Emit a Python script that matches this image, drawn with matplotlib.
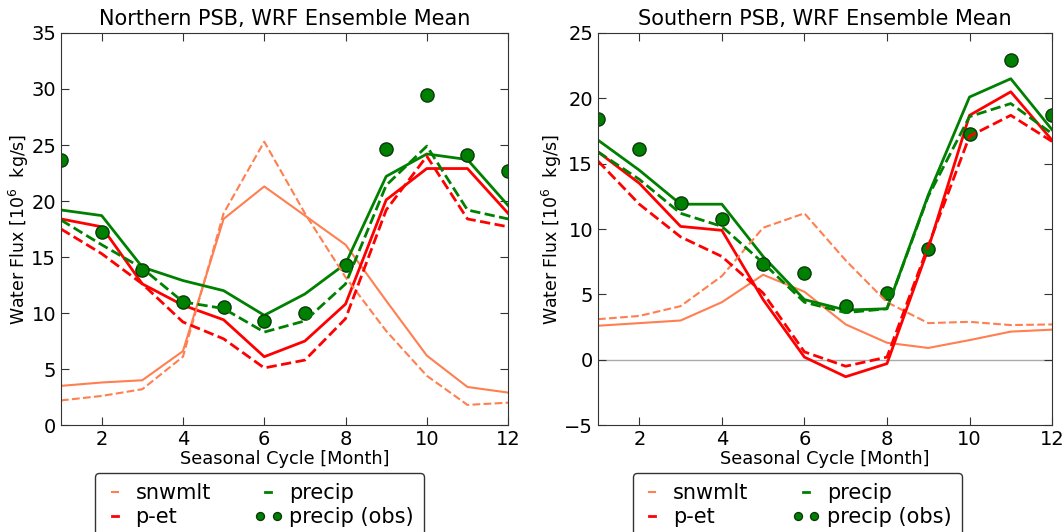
import matplotlib
matplotlib.use("Agg")
import matplotlib.pyplot as plt
from matplotlib.legend_handler import HandlerLine2D

months = list(range(1, 13))

# Northern PSB
n_snw = [3.5, 3.8, 4.0, 6.6, 18.4, 21.3, 18.7, 16.1, 11.1, 6.2, 3.4, 2.9]
n_snw_d = [2.2, 2.6, 3.2, 6.1, 18.9, 25.3, 18.9, 13.2, 8.4, 4.4, 1.8, 2.0]
n_pet = [18.4, 17.7, 12.6, 10.7, 9.4, 6.1, 7.5, 10.8, 20.1, 22.9, 22.9, 18.9]
n_pet_d = [17.5, 15.3, 12.6, 9.2, 7.7, 5.1, 5.8, 9.5, 19.2, 24.0, 18.4, 17.7]
n_pre = [19.2, 18.7, 14.1, 12.9, 12.0, 9.8, 11.7, 14.4, 22.2, 24.2, 23.7, 19.6]
n_pre_d = [18.3, 16.1, 14.0, 11.0, 10.4, 8.3, 9.3, 12.6, 21.4, 24.9, 19.2, 18.4]
n_obs = [23.7, 17.2, 13.8, 11.0, 10.5, 9.3, 10.0, 14.3, 24.6, 29.5, 24.1, 22.7]

# Southern PSB
s_snw = [2.6, 2.8, 3.0, 4.4, 6.5, 5.2, 2.7, 1.3, 0.9, 1.5, 2.15, 2.3]
s_snw_d = [3.1, 3.35, 4.1, 6.4, 10.1, 11.2, 7.6, 4.4, 2.8, 2.9, 2.65, 2.7]
s_pet = [15.9, 13.5, 10.2, 9.9, 4.6, 0.2, -1.3, -0.3, 8.5, 18.7, 20.5, 16.8]
s_pet_d = [15.2, 11.9, 9.4, 7.9, 5.1, 0.6, -0.5, 0.2, 8.7, 17.1, 18.7, 16.7]
s_pre = [16.8, 14.5, 11.9, 11.9, 7.9, 4.6, 3.8, 3.9, 12.6, 20.1, 21.5, 17.6]
s_pre_d = [15.9, 13.8, 11.2, 10.2, 7.4, 4.4, 3.6, 3.9, 12.5, 18.6, 19.6, 17.3]
s_obs = [18.4, 16.1, 12.0, 10.8, 7.3, 6.6, 4.1, 5.1, 8.5, 17.3, 22.9, 18.7]

plt.rcParams["font.family"] = "DejaVu Sans"
plt.rcParams["xtick.direction"] = "in"
plt.rcParams["ytick.direction"] = "in"
plt.rcParams["xtick.top"] = True
plt.rcParams["ytick.right"] = True

fig = plt.figure(figsize=(10.63, 5.32), dpi=100)
ax1 = fig.add_axes([0.0574, 0.201, 0.4206, 0.737])
ax2 = fig.add_axes([0.5626, 0.201, 0.4271, 0.737])

snw_c = "#ff7f50"


def panel(ax, title, snw, snw_d, pet, pet_d, pre, pre_d, obs, ylim, yticks):
    ax.plot(months, snw, color=snw_c, lw=1.5, label="snwmlt")
    ax.plot(months, pet, color="red", lw=2, label="p-et")
    ax.plot(months, pre, color="green", lw=2, label="precip")
    obs_line, = ax.plot(months, obs, "o", color="green", mec="#0a3a0a", ms=9.5,
                        label="precip (obs)")
    ax.plot(months, snw_d, color=snw_c, lw=1.5, ls="--")
    ax.plot(months, pet_d, color="red", lw=2, ls="--")
    ax.plot(months, pre_d, color="green", lw=2, ls="--")
    ax.set_xlim(1, 12)
    ax.set_xticks([2, 4, 6, 8, 10, 12])
    ax.set_ylim(*ylim)
    ax.set_yticks(yticks)
    ax.tick_params(labelsize=14, length=6, color="#333333")
    for s in ax.spines.values():
        s.set_color("#333333")
    ax.set_title(title, fontsize=15)
    ax.set_xlabel("Seasonal Cycle [Month]", fontsize=12.8, labelpad=1)
    ax.set_ylabel(r"Water Flux [$10^6$  kg/s]", fontsize=12.5, labelpad=0)
    leg = ax.legend(loc="upper left", bbox_to_anchor=(0.076, -0.122), ncol=2,
                    fontsize=15, handlelength=0.9, numpoints=2, markerscale=0.6,
                    columnspacing=2.3, handletextpad=0.55, labelspacing=0.2,
                    fancybox=True, framealpha=1, borderpad=0.5, borderaxespad=0,
                    handler_map={obs_line: HandlerLine2D(marker_pad=0.05)})
    leg.get_frame().set_edgecolor("#333333")


panel(ax1, "Northern PSB, WRF Ensemble Mean", n_snw, n_snw_d, n_pet, n_pet_d,
      n_pre, n_pre_d, n_obs, (0, 35), range(0, 36, 5))
panel(ax2, "Southern PSB, WRF Ensemble Mean", s_snw, s_snw_d, s_pet, s_pet_d,
      s_pre, s_pre_d, s_obs, (-5, 25), range(-5, 26, 5))
ax2.axhline(0, color="#aaaaaa", lw=1, zorder=0)

fig.savefig("out.png", dpi=100)
